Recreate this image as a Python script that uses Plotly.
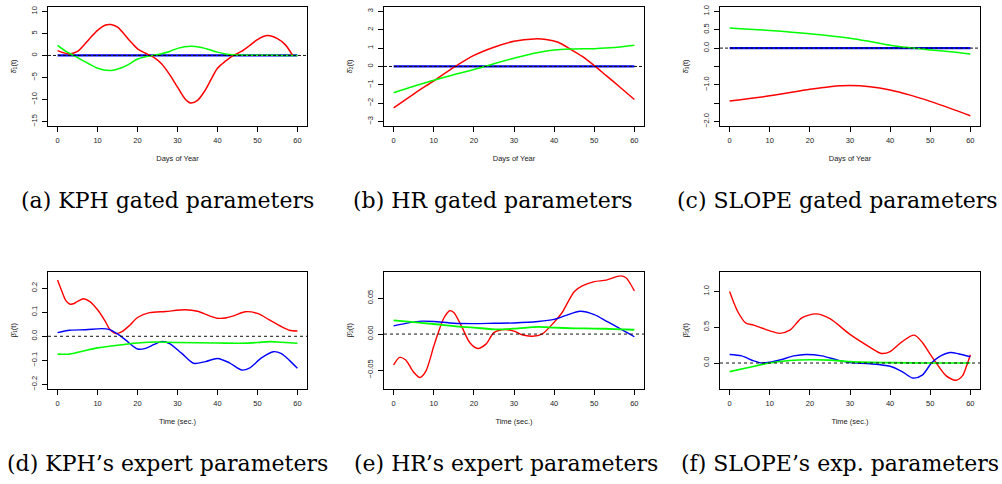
import plotly.graph_objects as go

# ---------------- data ----------------
# (a) KPH gated parameters
a_red_t = [0, 1.5, 3, 5, 8, 10, 12, 13.3, 15, 18, 20, 22, 24, 26, 28, 30, 32, 33.3, 35, 37, 40, 42, 44, 46, 48, 50, 52.5, 55, 57, 58.8]
a_red = [1.1, 0.6, 0.35, 0.9, 3.8, 5.7, 6.9, 7.0, 6.4, 3.4, 1.5, 0.5, -0.4, -1.9, -4.3, -7.2, -10.0, -10.8, -10.2, -7.8, -2.9, -1.3, 0.0, 0.9, 2.2, 3.6, 4.5, 3.8, 2.4, 0.0]
a_green_t = [0, 2, 4, 6, 8, 10, 13.3, 16, 18, 20, 22, 24, 26, 28, 30, 33.3, 36, 38, 40, 42, 44, 48, 52, 56, 60]
a_green = [2.3, 1.0, 0.0, -1.0, -2.0, -2.9, -3.4, -2.8, -1.9, -0.8, -0.3, 0.05, 0.4, 0.9, 1.6, 2.1, 1.8, 1.3, 0.75, 0.35, 0.15, 0.05, 0.05, 0.0, 0.0]
a_blue_t = [0, 60]
a_blue = [0.0, 0.0]

# (b) HR gated parameters
b_red_t = [0, 5, 10, 15, 20, 25, 30, 35, 38, 41, 44, 47, 50, 53, 56, 60]
b_red = [-2.25, -1.5, -0.78, -0.05, 0.6, 1.05, 1.37, 1.5, 1.47, 1.32, 0.95, 0.55, 0.05, -0.5, -1.05, -1.8]
b_green_t = [0, 5, 10, 15, 20, 25, 30, 35, 40, 45, 50, 55, 60]
b_green = [-1.43, -1.08, -0.75, -0.45, -0.17, 0.15, 0.45, 0.72, 0.9, 0.95, 0.97, 1.03, 1.15]
b_blue_t = [0, 60]
b_blue = [0.0, 0.0]

# (c) SLOPE gated parameters
c_red_t = [0, 10, 20, 25, 30, 35, 40, 45, 50, 55, 60]
c_red = [-1.44, -1.3, -1.12, -1.05, -1.02, -1.05, -1.14, -1.28, -1.45, -1.64, -1.84]
c_green_t = [0, 10, 20, 30, 35, 40, 45, 50, 55, 60]
c_green = [0.55, 0.48, 0.39, 0.27, 0.18, 0.08, 0.01, -0.05, -0.1, -0.16]
c_blue_t = [0, 60]
c_blue = [0.0, 0.0]

# (d) KPH's expert parameters
d_red_t = [0, 1, 2, 3, 4, 5, 6.5, 8, 10, 12, 13, 14.6, 16, 18, 20, 23, 27, 32, 35, 38, 40, 42, 44, 47, 50, 53, 56, 58, 60]
d_red = [0.234, 0.19, 0.15, 0.134, 0.135, 0.145, 0.156, 0.145, 0.11, 0.06, 0.03, 0.011, 0.018, 0.045, 0.078, 0.098, 0.103, 0.11, 0.104, 0.085, 0.075, 0.076, 0.085, 0.102, 0.095, 0.068, 0.04, 0.025, 0.022]
d_blue_t = [0, 3, 7, 11, 13, 15, 17, 20, 22, 24, 26, 28, 31, 34, 37, 40, 43, 46, 48, 51, 54, 56, 58, 60]
d_blue = [0.015, 0.025, 0.027, 0.032, 0.028, 0.01, -0.015, -0.053, -0.05, -0.035, -0.022, -0.03, -0.07, -0.112, -0.105, -0.092, -0.11, -0.14, -0.132, -0.09, -0.064, -0.072, -0.1, -0.133]
d_green_t = [0, 3, 6, 10, 15, 20, 25, 30, 40, 46, 50, 53, 56, 60]
d_green = [-0.074, -0.074, -0.063, -0.048, -0.037, -0.028, -0.024, -0.026, -0.028, -0.029, -0.026, -0.022, -0.025, -0.029]

# (e) HR's expert parameters
e_red_t = [0, 1.5, 3, 5, 6.5, 8, 10, 11, 12.5, 14, 15, 17, 19, 21, 23, 25, 27.7, 30, 32, 34.5, 37, 40, 42, 45, 47, 50, 53, 56.5, 58, 59, 60]
e_red = [-0.043, -0.0325, -0.036, -0.053, -0.0605, -0.052, -0.017, 0.0, 0.022, 0.0325, 0.03, 0.01, -0.012, -0.02, -0.014, 0.002, 0.0064, 0.004, -0.001, -0.003, 0.0, 0.0165, 0.03, 0.059, 0.067, 0.073, 0.075, 0.081, 0.078, 0.07, 0.06]
e_blue_t = [0, 4, 7, 10, 15, 20, 25, 30, 36, 40, 43, 46.5, 50, 53, 56, 60]
e_blue = [0.0115, 0.016, 0.018, 0.0175, 0.015, 0.0145, 0.015, 0.0155, 0.0175, 0.0205, 0.026, 0.0317, 0.027, 0.018, 0.009, -0.0037]
e_green_t = [0, 5, 10, 15, 20, 26, 31, 36, 40, 45, 50, 55, 60]
e_green = [0.019, 0.0165, 0.014, 0.011, 0.009, 0.0064, 0.008, 0.01, 0.009, 0.008, 0.0077, 0.007, 0.006]

# (f) SLOPE's expert parameters
f_red_t = [0, 1, 2, 4, 6, 8, 10, 12.5, 15, 18, 21.5, 25, 30, 35, 37.8, 40, 43, 46, 48, 50, 51.5, 54, 56.4, 58, 59, 60]
f_red = [1.0, 0.85, 0.72, 0.56, 0.53, 0.49, 0.45, 0.415, 0.46, 0.63, 0.687, 0.62, 0.4, 0.22, 0.134, 0.16, 0.3, 0.39, 0.29, 0.12, 0.0, -0.18, -0.24, -0.18, -0.05, 0.115]
f_blue_t = [0, 3, 6, 8, 10, 13, 16, 19, 23, 27, 30, 35, 40, 43, 45.7, 48, 50.3, 52, 55, 57, 60]
f_blue = [0.12, 0.1, 0.03, 0.0, 0.01, 0.05, 0.1, 0.12, 0.1, 0.04, 0.005, -0.01, -0.045, -0.12, -0.21, -0.17, 0.0, 0.08, 0.147, 0.13, 0.088]
f_green_t = [0, 5, 10, 15, 20, 25, 30, 40, 50, 60]
f_green = [-0.12, -0.06, 0.0, 0.035, 0.045, 0.04, 0.02, 0.005, 0.0, 0.0]

x_ticks = [0, 10, 20, 30, 40, 50, 60]
a_yticks = [-15, -10, -5, 0, 5, 10]
a_ytext = ["\u221215", "\u221210", "\u22125", "0", "5", "10"]
b_yticks = [-3, -2, -1, 0, 1, 2, 3]
b_ytext = ["\u22123", "\u22122", "\u22121", "0", "1", "2", "3"]
c_yticks = [-2, -1, 0, 0.5, 1]
c_ytext = ["\u22122.0", "\u22121.0", "0.0", "0.5", "1.0"]
c_yticks_unlabelled = [-1.5, -0.5]
d_yticks = [-0.2, -0.1, 0, 0.1, 0.2]
d_ytext = ["\u22120.2", "\u22120.1", "0.0", "0.1", "0.2"]
e_yticks = [-0.05, 0, 0.05]
e_ytext = ["\u22120.05", "0.00", "0.05"]
f_yticks = [0, 0.5, 1.0]
f_ytext = ["0.0", "0.5", "1.0"]

captions = ["(a) KPH gated parameters", "(b) HR gated parameters", "(c) SLOPE gated parameters",
            "(d) KPH\u2019s expert parameters", "(e) HR\u2019s expert parameters", "(f) SLOPE\u2019s exp. parameters"]
ylabels = ["\u03b4\u0302<sub>1</sub>(t)", "\u03b4\u0302<sub>2</sub>(t)", "\u03b4\u0302<sub>3</sub>(t)",
           "\u03b2\u0302<sub>1</sub>(t)", "\u03b2\u0302<sub>2</sub>(t)", "\u03b2\u0302<sub>3</sub>(t)"]
xlabels = ["Days of Year"] * 3 + ["Time (sec.)"] * 3

# ---------------- layout helpers ----------------
W, H = 1002, 484
def px(p):
    return p / W
def py(p):
    return 1 - p / H

boxes_x = [(48, 307), (384, 644), (720, 980)] * 2
boxes_y = [(5, 125)] * 3 + [(272, 390)] * 3
yranges = [[-16, 11], [-3.24, 3.24], [-2.12, 1.12], [-0.218, 0.268], [-0.0761, 0.0867], [-0.36, 1.276]]
yticks = [a_yticks, b_yticks, c_yticks, d_yticks, e_yticks, f_yticks]
ytexts = [a_ytext, b_ytext, c_ytext, d_ytext, e_ytext, f_ytext]
cap_x = [167, 493, 837, 167, 506, 840]
cap_y = [200, 200, 200, 465, 465, 465]

RED, GREEN, BLUE = "#FF0000", "#00FF00", "#0000FF"
panels = [
    [(a_blue_t, a_blue, BLUE, 2.2), (a_red_t, a_red, RED, 1.5), (a_green_t, a_green, GREEN, 1.5)],
    [(b_blue_t, b_blue, BLUE, 2.2), (b_red_t, b_red, RED, 1.5), (b_green_t, b_green, GREEN, 1.5)],
    [(c_blue_t, c_blue, BLUE, 2.2), (c_red_t, c_red, RED, 1.5), (c_green_t, c_green, GREEN, 1.5)],
    [(d_red_t, d_red, RED, 1.4), (d_blue_t, d_blue, BLUE, 1.4), (d_green_t, d_green, GREEN, 1.6)],
    [(e_red_t, e_red, RED, 1.4), (e_blue_t, e_blue, BLUE, 1.4), (e_green_t, e_green, GREEN, 1.8)],
    [(f_red_t, f_red, RED, 1.4), (f_blue_t, f_blue, BLUE, 1.4), (f_green_t, f_green, GREEN, 1.6)],
]

fig = go.Figure()
SANS = "Liberation Sans, Arial, sans-serif"
TICKFONT = dict(family=SANS, size=7.5, color="#222")
annotations = []
shapes = []
layout = {}
for i in range(6):
    k = i + 1
    xa = "x" if k == 1 else f"x{k}"
    ya = "y" if k == 1 else f"y{k}"
    for (t, v, col, lw) in panels[i]:
        fig.add_trace(go.Scatter(x=t, y=v, mode="lines", line=dict(color=col, width=lw, shape="spline", smoothing=0.8),
                                 xaxis=xa, yaxis=ya, showlegend=False, hoverinfo="skip"))
    x0, x1 = boxes_x[i]
    y0, y1 = boxes_y[i]
    layout[f"xaxis{k if k > 1 else ''}"] = dict(
        domain=[px(x0), px(x1)], anchor=ya, range=[-2.4, 62.4],
        tickmode="array", tickvals=x_ticks, ticks="outside", ticklen=5, tickcolor="black", tickwidth=1,
        showline=True, linecolor="black", linewidth=1, mirror=True, showgrid=False, zeroline=False,
        tickfont=TICKFONT, ticklabelstandoff=2,
        title=dict(text=xlabels[i], standoff=11, font=dict(family=SANS, size=7.5, color="#222")))
    yax = dict(
        domain=[py(y1), py(y0)], anchor=xa, range=yranges[i],
        tickmode="array", tickvals=yticks[i], ticktext=ytexts[i], tickangle=-90,
        ticks="outside", ticklen=5, tickcolor="black", tickwidth=1,
        showline=True, linecolor="black", linewidth=1, mirror=True, showgrid=False, zeroline=False,
        tickfont=TICKFONT, ticklabelstandoff=2,
        title=dict(text=ylabels[i], standoff=12, font=dict(family=SANS, size=7.5, color="#222")))
    if i == 2:
        yax["minor"] = dict(tickmode="array", tickvals=c_yticks_unlabelled, ticks="outside", ticklen=5,
                            tickcolor="black", tickwidth=1, showgrid=False)
    layout[f"yaxis{k if k > 1 else ''}"] = yax
    shapes.append(dict(type="line", xref=f"{xa} domain", yref=ya, x0=0, x1=1, y0=0, y1=0,
                       line=dict(color="#111", width=1, dash="3px,2px" if i < 3 else "3px,3px"), layer="above"))
    annotations.append(dict(text=captions[i], xref="paper", yref="paper", x=px(cap_x[i]), y=py(cap_y[i]),
                            xanchor="center", yanchor="middle", showarrow=False,
                            font=dict(family="DejaVu Serif, serif", size=22, color="black")))

fig.update_layout(width=W, height=H, margin=dict(l=0, r=0, t=0, b=0), paper_bgcolor="white",
                  plot_bgcolor="white", showlegend=False, annotations=annotations, shapes=shapes, **layout)
fig.write_html("out.html", config={"displayModeBar": False})
